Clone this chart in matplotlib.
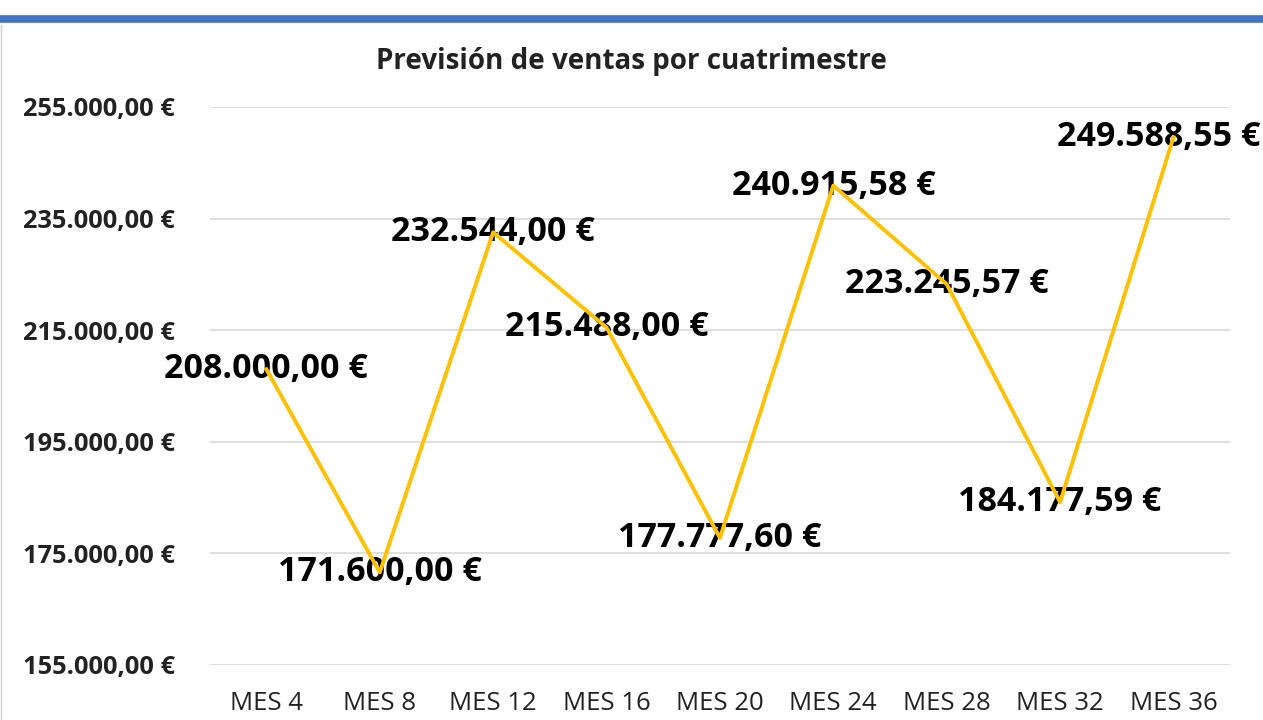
import matplotlib.pyplot as plt
from matplotlib.lines import Line2D

# Sales forecast per four-month period
months = ['MES 4', 'MES 8', 'MES 12', 'MES 16', 'MES 20', 'MES 24', 'MES 28', 'MES 32', 'MES 36']
sales = [208000.00, 171600.00, 232544.00, 215488.00, 177777.60,
         240915.58, 223245.57, 184177.59, 249588.55]
y_ticks = [155000, 175000, 195000, 215000, 235000, 255000]


def euro(v):
    # Spanish format: 1.234,56 €
    s = f'{v:,.2f}'.replace(',', 'X').replace('.', ',').replace('X', '.')
    return s + ' €'


plt.rcParams['font.family'] = ['Open Sans', 'DejaVu Sans']

fig = plt.figure(figsize=(12.63, 7.2), dpi=100)
ax = fig.add_axes([0.166, 0.0764, 0.808, 0.775])

x = list(range(len(months)))
ax.plot(x, sales, color='#FFC000', linewidth=2.8, zorder=4)

ax.set_xlim(-0.5, len(months) - 0.5)
ax.set_ylim(155000, 255000)

# Data labels centered on each point, pushed inside the figure if they overflow
labels = []
for xi, v in zip(x, sales):
    labels.append(ax.annotate(euro(v), (xi, v), xytext=(0, 0), textcoords='offset pixels',
                              ha='center', va='center', fontsize=24.5,
                              fontweight='bold', color='black', zorder=3))
renderer = fig.canvas.get_renderer()
fig_w = fig.bbox.width
for t in labels:
    bb = t.get_window_extent(renderer)
    if bb.x1 > fig_w - 3:
        t.set_position((-(bb.x1 - fig_w + 3), 0))

ax.set_xticks(x)
ax.set_xticklabels(months, fontsize=18.5, color='#222222')
ax.set_yticks(y_ticks)
ax.set_yticklabels([euro(v) for v in y_ticks], fontsize=18.3, fontweight='bold',
                   color='#222222')
ax.tick_params(axis='both', length=0)
ax.tick_params(axis='y', pad=25)
ax.tick_params(axis='x', pad=19)
ax.grid(axis='y', color='#d9d9d9', linewidth=1.2)
ax.set_axisbelow(True)
for sp in ax.spines.values():
    sp.set_visible(False)

fig.text(0.5, 0.914, 'Previsión de ventas por cuatrimestre', ha='center', va='center',
         fontsize=20, fontweight='bold', color='#222222')

# Blue top border and faint left border
fig.add_artist(Line2D([0, 1], [0.974, 0.974], transform=fig.transFigure,
                      color='#4472C4', linewidth=5.5))
fig.add_artist(Line2D([0.001, 0.001], [0, 0.965], transform=fig.transFigure,
                      color='#d0d0d0', linewidth=1))

fig.savefig('out.png', dpi=100)
